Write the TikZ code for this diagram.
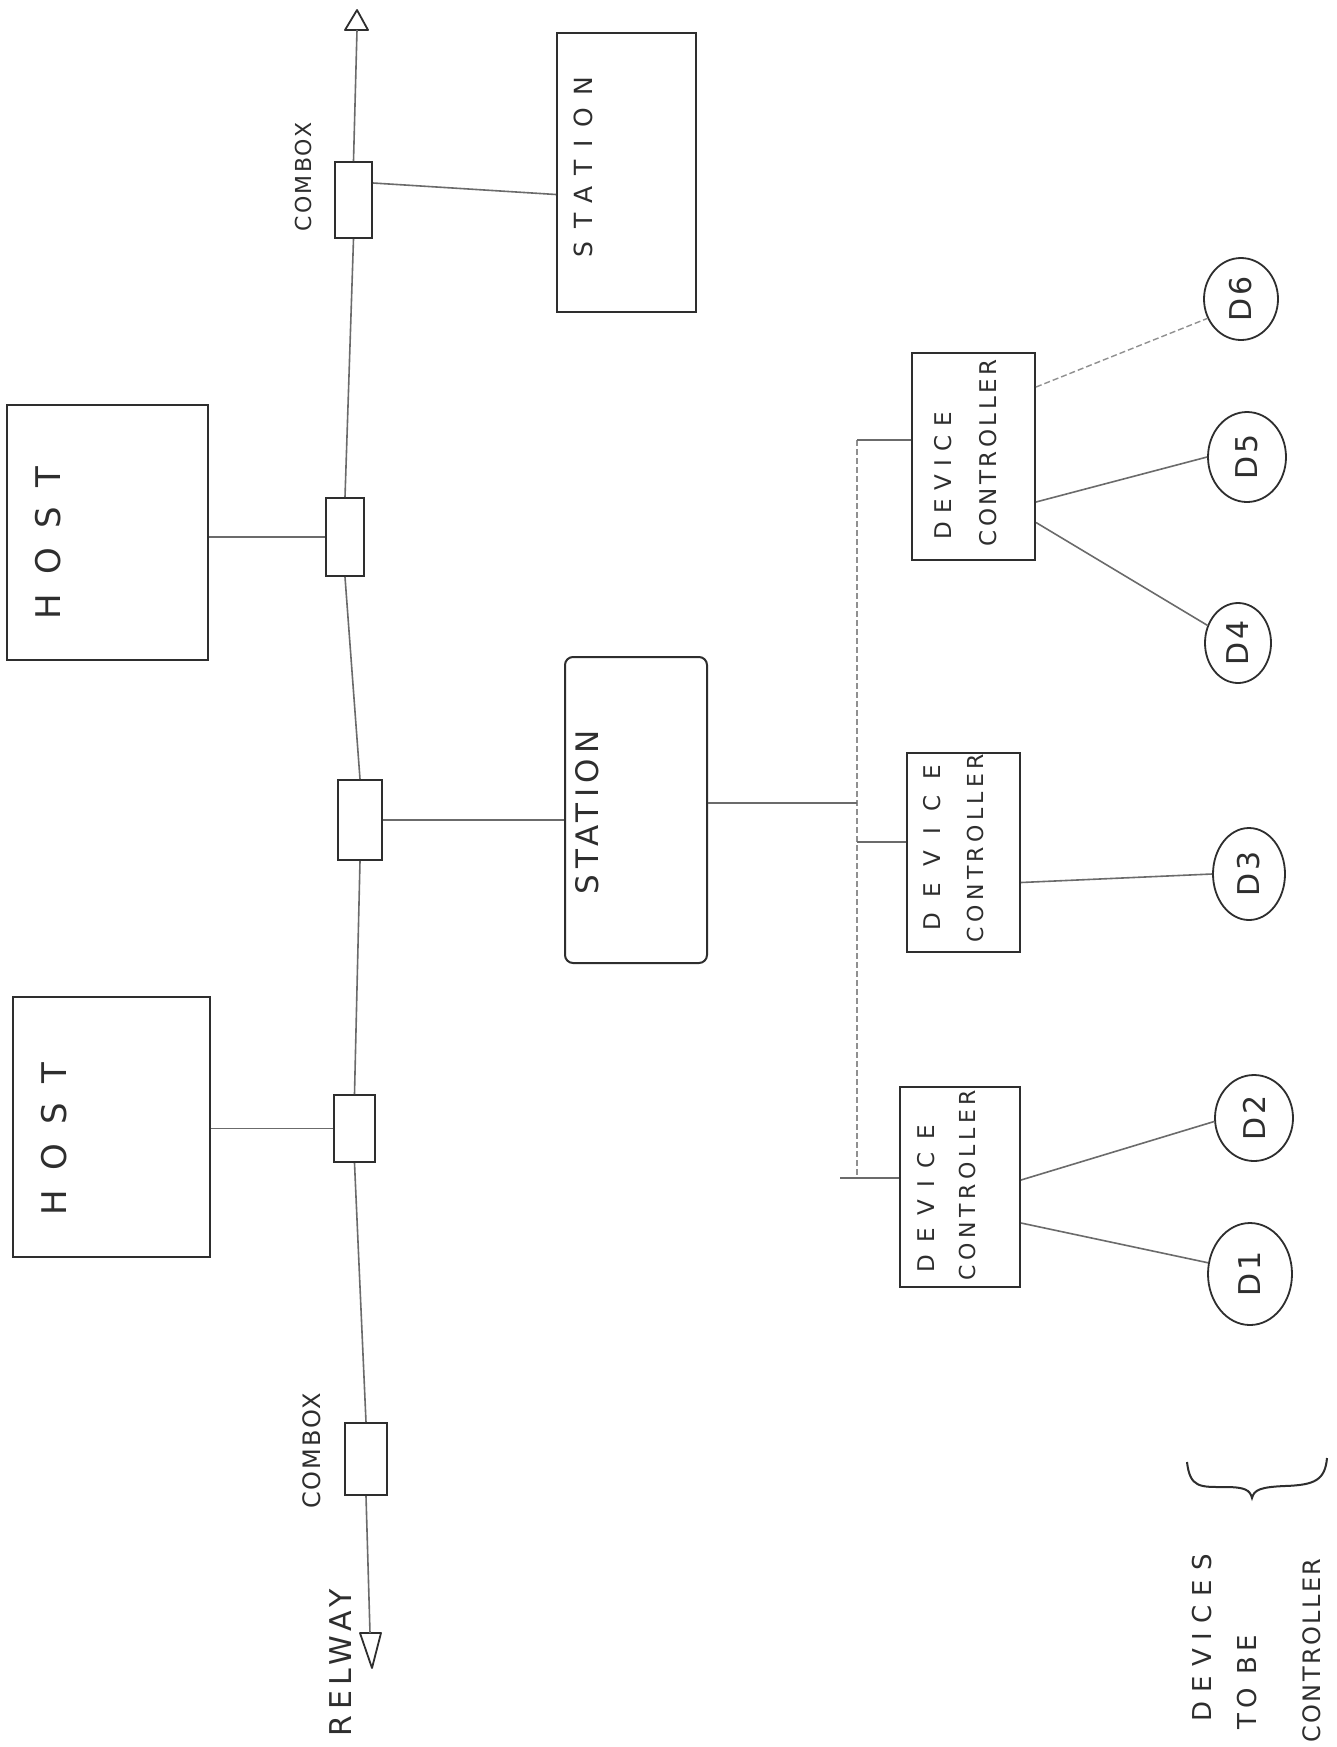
\documentclass[tikz,border=0pt]{standalone}
\usepackage{fontspec}
\setmainfont{DejaVu Sans}
\usetikzlibrary{fit,shapes.geometric}
\definecolor{ink}{gray}{0.18}
\definecolor{pencil}{gray}{0.42}
\newcommand\hw[3]{\fontsize{#1}{#1}\selectfont\addfontfeatures{LetterSpace=#2}#3}
\begin{document}
\begin{tikzpicture}[x=0.5pt,y=-0.5pt,
  box/.style={draw=ink,line width=1pt,inner sep=0pt},
  dev/.style={draw=ink,line width=0.9pt,ellipse,inner sep=0pt},
  wire/.style={draw=pencil,line width=0.8pt},
  faint/.style={draw=pencil!75,line width=0.7pt,dash pattern=on 3pt off 1.5pt},
  tri/.style={draw=ink,line width=0.9pt,line join=round},
  txt/.style={rotate=90,text=ink,inner sep=0pt}]
\fill[white] (0,0) rectangle (1337,1747);
\useasboundingbox (0,0) rectangle (1337,1747);

% hosts
\node[box,fit={(7,405) (208,660)}] (h1) {};
\node[box,fit={(13,997) (210,1257)}] (h2) {};
\node[txt] (h1t) at (48,543) {\hw{17}{57}{HOST}};
\node[txt] (h2t) at (54,1139) {\hw{17}{57}{HOST}};

% stations
\node[box,fit={(557,33) (696,312)}] (s1) {};
\node[box,rounded corners=4pt,fit={(565,657) (707,963)}] (s2) {};
\node[txt] (s1t) at (583,167) {\hw{12.5}{50}{STATION}};
\node[txt] (s2t) at (587,812) {\hw{15.5}{18}{STATION}};

% comboxes
\node[box,fit={(335,162) (372,238)}] (cb1) {};
\node[box,fit={(326,498) (364,576)}] (cb2) {};
\node[box,fit={(338,780) (382,860)}] (cb3) {};
\node[box,fit={(334,1095) (375,1162)}] (cb4) {};
\node[box,fit={(345,1423) (387,1495)}] (cb5) {};
\node[txt] (cbt1) at (303,177) {\hw{11}{10}{COMBOX}};
\node[txt] (cbt2) at (312,1451) {\hw{12}{8}{COMBOX}};
\node[txt] (relway) at (341,1663) {\hw{15}{19}{RELWAY}};

% bus ends
\draw[tri] (345,30) -- (357,10) -- (368,30) -- cycle;
\coordinate (aTop) at (357,30);
\draw[tri] (360,1633) -- (372,1668) -- (381,1633) -- cycle;
\coordinate (aBot) at (370,1633);

% bus
\draw[wire] (aTop) -- (cb1.north);
\draw[wire] (cb1.south) -- (cb2.north);
\draw[wire] (cb2.south) -- (cb3.north);
\draw[wire] (cb3.south) -- (cb4.north);
\draw[wire] (cb4.south) -- (cb5.north);
\draw[wire] (cb5.south) -- (aBot);

% links to bus
\draw[wire] (h1.east |- cb2.west) -- (cb2.west);
\draw[wire] (h2.east |- cb4.west) -- (cb4.west);
\draw[wire] ([yshift=8.5pt]cb1.east) -- ([yshift=-11pt]s1.west);
\draw[wire] (cb3.east) -- (s2.west |- cb3.east);

% device controllers
\node[box,fit={(912,353) (1035,560)}] (dc3) {};
\node[box,fit={(907,753) (1020,952)}] (dc2) {};
\node[box,fit={(900,1087) (1020,1287)}] (dc1) {};
\node[txt] (dc3a) at (943,476) {\hw{11.5}{37}{DEVICE}};
\node[txt] (dc3b) at (988,453) {\hw{11.5}{15}{CONTROLLER}};
\node[txt] (dc2a) at (932,848) {\hw{11.5}{70}{DEVICE}};
\node[txt] (dc2b) at (975,848) {\hw{11}{20}{CONTROLLER}};
\node[txt] (dc1a) at (926,1199) {\hw{11.5}{54}{DEVICE}};
\node[txt] (dc1b) at (967,1185) {\hw{11}{21}{CONTROLLER}};

% trunk
\coordinate (tTop) at (857,440);
\coordinate (tS2) at (857,803);
\coordinate (tMid) at (857,842);
\coordinate (tBot) at (857,1178);
\coordinate (stub) at (840,1178);
\draw[faint] (tTop) -- (tBot);
\draw[wire] ([yshift=3.5pt]s2.east) -- (tS2);
\draw[wire] (tTop) -- (tTop -| dc3.west);
\draw[wire] (tMid) -- (tMid -| dc2.west);
\draw[wire] (stub) -- (stub -| dc1.west);

% devices
\node[dev,minimum width=37pt,minimum height=41pt] (d6) at (1241,299) {};
\node[dev,minimum width=39pt,minimum height=45pt] (d5) at (1247,457) {};
\node[dev,minimum width=33pt,minimum height=40pt] (d4) at (1238,643) {};
\node[dev,minimum width=36pt,minimum height=46pt] (d3) at (1249,874) {};
\node[dev,minimum width=39pt,minimum height=43pt] (d2) at (1254,1118) {};
\node[dev,minimum width=42pt,minimum height=51pt] (d1) at (1250,1274) {};
\node[txt] (d6t) at (d6) {\hw{15}{10}{D6}};
\node[txt] (d5t) at (d5) {\hw{15}{10}{D5}};
\node[txt] (d4t) at (d4) {\hw{15}{10}{D4}};
\node[txt] (d3t) at (d3) {\hw{15}{10}{D3}};
\node[txt] (d2t) at (d2) {\hw{15}{10}{D2}};
\node[txt] (d1t) at (d1) {\hw{15}{10}{D1}};

% device links
\draw[faint] ([yshift=34.75pt]dc3.east) -- (d6.210);
\draw[wire] ([yshift=-22.75pt]dc3.east) -- (d5.west);
\draw[wire] ([yshift=-33pt]dc3.east) -- (d4.150);
\draw[wire] ([yshift=-15pt]dc2.east) -- (d3.west);
\draw[wire] ([yshift=3.5pt]dc1.east) -- (d2.185);
\draw[wire] ([yshift=-18pt]dc1.east) -- (d1.165);

% legend brace
\draw[ink,line width=1pt] (1187,1462) .. controls (1190,1488) and (1200,1487) .. (1225,1487)
  .. controls (1245,1487) and (1250,1490) .. (1252,1498)
  .. controls (1254,1490) and (1260,1487) .. (1285,1486)
  .. controls (1315,1485) and (1325,1480) .. (1327,1458);
\node[txt,anchor=west] (lg1) at (1202,1722) {\hw{13}{35}{DEVICES}};
\node[txt,anchor=west] (lg2) at (1247,1730) {\hw{13}{20}{TO BE}};
\node[txt,anchor=west] (lg3) at (1312,1743) {\hw{12}{10}{CONTROLLER}};
\end{tikzpicture}
\end{document}
